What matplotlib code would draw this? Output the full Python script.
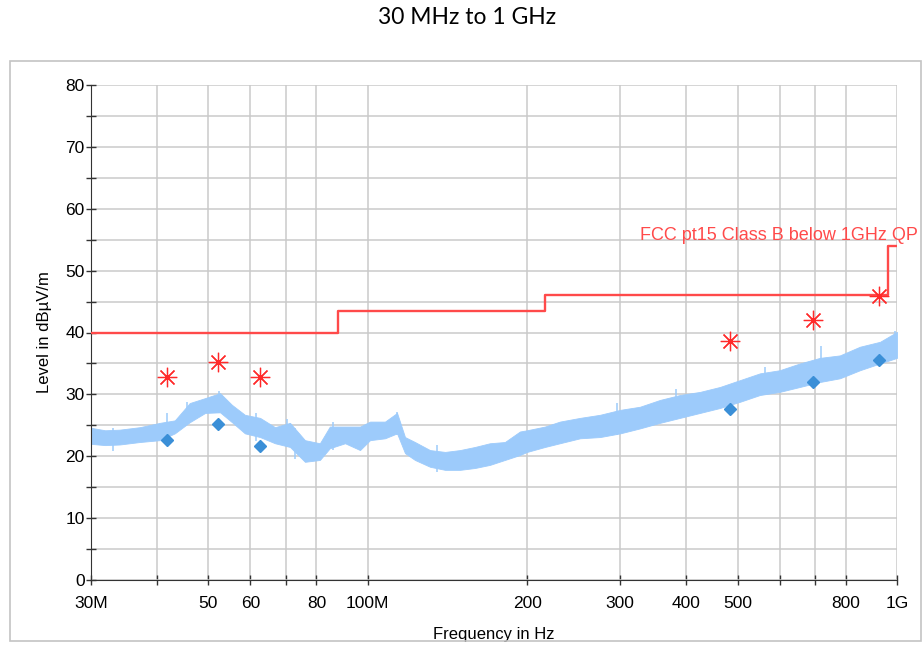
import matplotlib
matplotlib.use("Agg")
import matplotlib.pyplot as plt
from matplotlib.patches import Rectangle
from matplotlib.ticker import FixedLocator, NullFormatter

trace_freq = [30, 31.9, 34.0, 37.1, 40.5, 43.2, 46.1, 49.3, 52.6, 55.4, 58.6,
              62.6, 66.8, 71.3, 76.1, 81.2, 84.8, 90.6, 96.7, 101, 107.8,
              113.6, 117.6, 122.8, 131.1, 140, 149.4, 159.4, 170.1, 181.6,
              193.9, 200, 216.2, 230.7, 251.8, 274.7, 300, 326.8, 356.6, 389,
              424.4, 463, 505, 551, 600, 655.6, 715, 780, 851, 929, 1000]
trace_lo = [22.0, 21.8, 21.9, 22.3, 22.6, 23.7, 25.5, 27.0, 27.1, 25.5, 23.7,
            23.1, 22.1, 21.5, 19.1, 19.4, 21.3, 22.1, 21.0, 22.6, 22.9,
            23.7, 20.5, 19.4, 18.3, 17.8, 17.8, 18.1, 18.6, 19.4,
            20.2, 20.7, 21.5, 22.1, 22.9, 23.1, 23.7, 24.5, 25.4, 26.2,
            27.0, 27.8, 28.8, 29.9, 30.4, 31.2, 32.0, 32.6, 33.9, 35.0, 35.9]
trace_hi = [24.6, 24.2, 24.3, 24.7, 25.4, 25.8, 28.6, 29.4, 30.2, 28.3, 26.7,
            26.2, 24.7, 25.4, 22.6, 22.1, 24.8, 24.8, 24.8, 25.6, 25.6,
            27.0, 23.1, 22.3, 21.0, 20.7, 21.0, 21.5, 22.1, 22.3,
            24.0, 24.2, 24.8, 25.6, 26.2, 26.7, 27.5, 28.0, 29.1, 29.9,
            30.4, 31.2, 32.3, 33.4, 33.9, 35.0, 35.9, 36.3, 37.7, 38.5, 40.1]

# the most visible noise spikes sticking out of the band (freq, bottom, top)
spike_freq = [33, 41.8, 45.5, 52.3, 61.5, 70.5, 73, 86, 113.6, 135, 296, 383,
              563, 720, 990]
spike_bottom = [20.8, 23.0, 25.0, 27.0, 22.5, 21.5, 19.5, 21.0, 23.5, 17.5,
                23.5, 26.0, 30.0, 32.0, 35.8]
spike_top = [24.5, 27.0, 28.8, 30.5, 27.0, 26.0, 24.5, 25.5, 27.2, 21.8,
             28.6, 30.8, 34.4, 37.8, 40.3]

# FCC limit (step), peak and quasi-peak results
limit_freq = [30, 88, 216, 960, 1000]
limit_level = [40, 43.5, 46, 54, 54]
peak_freq = [41.8, 52.1, 62.6, 483.5, 693.8, 924.5]
peak_level = [32.8, 35.2, 32.8, 38.6, 42.0, 45.9]
qp_level = [22.6, 25.2, 21.6, 27.6, 32.0, 35.5]

xtick_pos = [30, 40, 50, 60, 70, 80, 100, 200, 300, 400, 500, 600, 700, 800, 1000]
xtick_lab = ["30M", "", "50", "60", "", "80", "100M", "200", "300", "400",
             "500", "", "", "800", "1G"]

plt.rcParams["font.family"] = ["Liberation Sans", "DejaVu Sans"]

fig = plt.figure(figsize=(9.23, 6.45), dpi=100)
ax = fig.add_axes([91 / 923, 1 - 580 / 645, 806 / 923, 495 / 645])

# outer frame
fig.patches.append(Rectangle((10 / 923, 1 - 641 / 645), 911 / 923, 580 / 645,
                             transform=fig.transFigure, fill=False,
                             edgecolor="#c4c4c4", lw=1.2))

trace_col = "#9dcbfb"
ax.fill_between(trace_freq, trace_lo, trace_hi, color=trace_col,
                edgecolor=trace_col, lw=0.6, zorder=2)
ax.vlines(spike_freq, spike_bottom, spike_top, color=trace_col, lw=1.1, zorder=2)

ax.step(limit_freq, limit_level, where="post", color="#ff4a4a", lw=1.7, zorder=3)
ax.plot(peak_freq, peak_level, ls="none", marker=(8, 2, 0), ms=14,
        mew=0.9, color="#ff2a2a", zorder=4)
ax.plot(peak_freq, qp_level, ls="none", marker="D", ms=6.5,
        color="#3b8fd7", zorder=4)

ax.set_xscale("log")
ax.set_xlim(30, 1000)
ax.set_ylim(0, 80)

ax.xaxis.set_major_locator(FixedLocator(xtick_pos))
ax.set_xticklabels(xtick_lab)
ax.xaxis.set_minor_locator(FixedLocator([]))
ax.xaxis.set_minor_formatter(NullFormatter())
ax.set_yticks(range(0, 81, 10))
ax.set_yticks(range(5, 80, 10), minor=True)

ax.grid(True, which="both", color="#cacaca", lw=1.1)
ax.set_axisbelow(True)
for s in ["top", "right"]:
    ax.spines[s].set_visible(False)
ax.spines["left"].set_color("#333333")
ax.spines["bottom"].set_color("#333333")

ax.tick_params(axis="both", which="both", direction="inout", length=7,
               width=1.0, color="#333333", labelsize=12.5)
ax.tick_params(axis="x", pad=8)
ax.tick_params(axis="y", pad=1)

ax.set_xlabel("Frequency in Hz", fontsize=12)
ax.set_ylabel("Level in dBµV/m", fontsize=12)
ax.xaxis.set_label_coords(0.5, -0.095)
ax.yaxis.set_label_coords(-0.048, 0.5)

fig.text(918 / 923, 1 - 235 / 645, "FCC pt15 Class B below 1GHz QP",
         ha="right", va="center", color="#ff4a4a", fontsize=13)
fig.text(467 / 923, 1 - 18 / 645, "30 MHz to 1 GHz", ha="center", va="center",
         fontsize=16.5, family=["Lato", "DejaVu Sans"])

fig.savefig("out.png", dpi=100)
